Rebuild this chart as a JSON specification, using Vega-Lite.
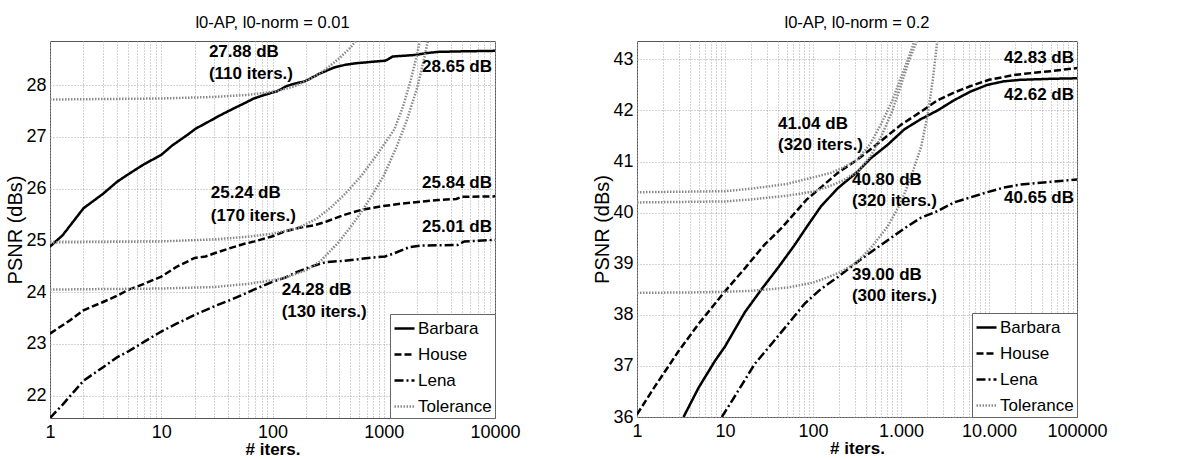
{
  "$schema": "https://vega.github.io/schema/vega-lite/v6.json",
  "padding": {"left": 5, "top": 14, "right": 5, "bottom": 3},
  "background": "white",
  "config": {
    "font": "Liberation Sans",
    "view": {"stroke": "#555", "strokeWidth": 1},
    "title": {"fontSize": 16.5, "fontWeight": "normal", "font": "Liberation Sans", "color": "black", "offset": 10},
    "axis": {
      "labelFont": "Liberation Sans", "labelFontSize": 18, "labelColor": "black",
      "titleFont": "Liberation Sans", "titleFontSize": 17, "titleColor": "black", "titleFontWeight": "normal",
      "domain": false, "ticks": false, "grid": true, "gridColor": "#a8a8a8", "gridDash": [1, 2], "gridWidth": 1, "gridOpacity": 1,
      "labelOverlap": false, "labelFlush": false
    },
    "legend": {
      "orient": "bottom-right", "offset": 0, "fillColor": "white", "strokeColor": "#666",
      "padding": 3, "labelFont": "Liberation Sans", "labelFontSize": 17, "labelColor": "black",
      "symbolType": "stroke", "symbolSize": 400, "rowPadding": 6, "labelOffset": 2, "symbolStrokeColor": "black"
    }
  },
  "datasets": {
    "left": [
      {"series": "Barbara", "curve": "Barbara", "iters": 1, "psnr": 24.88},
      {"series": "Barbara", "curve": "Barbara", "iters": 1.3, "psnr": 25.1},
      {"series": "Barbara", "curve": "Barbara", "iters": 2, "psnr": 25.62},
      {"series": "Barbara", "curve": "Barbara", "iters": 3, "psnr": 25.9},
      {"series": "Barbara", "curve": "Barbara", "iters": 4, "psnr": 26.13},
      {"series": "Barbara", "curve": "Barbara", "iters": 5, "psnr": 26.27},
      {"series": "Barbara", "curve": "Barbara", "iters": 7, "psnr": 26.47},
      {"series": "Barbara", "curve": "Barbara", "iters": 10, "psnr": 26.65},
      {"series": "Barbara", "curve": "Barbara", "iters": 12.5, "psnr": 26.83},
      {"series": "Barbara", "curve": "Barbara", "iters": 17, "psnr": 27.03},
      {"series": "Barbara", "curve": "Barbara", "iters": 20.5, "psnr": 27.16},
      {"series": "Barbara", "curve": "Barbara", "iters": 26, "psnr": 27.28},
      {"series": "Barbara", "curve": "Barbara", "iters": 33.5, "psnr": 27.41},
      {"series": "Barbara", "curve": "Barbara", "iters": 46, "psnr": 27.56},
      {"series": "Barbara", "curve": "Barbara", "iters": 55, "psnr": 27.64},
      {"series": "Barbara", "curve": "Barbara", "iters": 68, "psnr": 27.74},
      {"series": "Barbara", "curve": "Barbara", "iters": 85, "psnr": 27.81},
      {"series": "Barbara", "curve": "Barbara", "iters": 110, "psnr": 27.88},
      {"series": "Barbara", "curve": "Barbara", "iters": 134, "psnr": 27.98},
      {"series": "Barbara", "curve": "Barbara", "iters": 160, "psnr": 28.03},
      {"series": "Barbara", "curve": "Barbara", "iters": 195, "psnr": 28.07},
      {"series": "Barbara", "curve": "Barbara", "iters": 265, "psnr": 28.22},
      {"series": "Barbara", "curve": "Barbara", "iters": 360, "psnr": 28.34},
      {"series": "Barbara", "curve": "Barbara", "iters": 450, "psnr": 28.39},
      {"series": "Barbara", "curve": "Barbara", "iters": 560, "psnr": 28.42},
      {"series": "Barbara", "curve": "Barbara", "iters": 1030, "psnr": 28.47},
      {"series": "Barbara", "curve": "Barbara", "iters": 1100, "psnr": 28.5},
      {"series": "Barbara", "curve": "Barbara", "iters": 1200, "psnr": 28.55},
      {"series": "Barbara", "curve": "Barbara", "iters": 1900, "psnr": 28.58},
      {"series": "Barbara", "curve": "Barbara", "iters": 2500, "psnr": 28.62},
      {"series": "Barbara", "curve": "Barbara", "iters": 3100, "psnr": 28.64},
      {"series": "Barbara", "curve": "Barbara", "iters": 5000, "psnr": 28.65},
      {"series": "Barbara", "curve": "Barbara", "iters": 10000, "psnr": 28.66},

      {"series": "House", "curve": "House", "iters": 1, "psnr": 23.2},
      {"series": "House", "curve": "House", "iters": 1.5, "psnr": 23.45},
      {"series": "House", "curve": "House", "iters": 2, "psnr": 23.65},
      {"series": "House", "curve": "House", "iters": 3, "psnr": 23.81},
      {"series": "House", "curve": "House", "iters": 4, "psnr": 23.93},
      {"series": "House", "curve": "House", "iters": 5, "psnr": 24.04},
      {"series": "House", "curve": "House", "iters": 7, "psnr": 24.16},
      {"series": "House", "curve": "House", "iters": 10, "psnr": 24.3},
      {"series": "House", "curve": "House", "iters": 14, "psnr": 24.5},
      {"series": "House", "curve": "House", "iters": 20, "psnr": 24.66},
      {"series": "House", "curve": "House", "iters": 25, "psnr": 24.69},
      {"series": "House", "curve": "House", "iters": 31, "psnr": 24.76},
      {"series": "House", "curve": "House", "iters": 43, "psnr": 24.86},
      {"series": "House", "curve": "House", "iters": 55, "psnr": 24.93},
      {"series": "House", "curve": "House", "iters": 69, "psnr": 24.98},
      {"series": "House", "curve": "House", "iters": 100, "psnr": 25.08},
      {"series": "House", "curve": "House", "iters": 128, "psnr": 25.17},
      {"series": "House", "curve": "House", "iters": 170, "psnr": 25.24},
      {"series": "House", "curve": "House", "iters": 236, "psnr": 25.29},
      {"series": "House", "curve": "House", "iters": 302, "psnr": 25.36},
      {"series": "House", "curve": "House", "iters": 437, "psnr": 25.49},
      {"series": "House", "curve": "House", "iters": 632, "psnr": 25.59},
      {"series": "House", "curve": "House", "iters": 970, "psnr": 25.66},
      {"series": "House", "curve": "House", "iters": 1450, "psnr": 25.71},
      {"series": "House", "curve": "House", "iters": 3100, "psnr": 25.78},
      {"series": "House", "curve": "House", "iters": 4500, "psnr": 25.8},
      {"series": "House", "curve": "House", "iters": 5000, "psnr": 25.84},
      {"series": "House", "curve": "House", "iters": 10000, "psnr": 25.85},

      {"series": "Lena", "curve": "Lena", "iters": 1, "psnr": 21.57},
      {"series": "Lena", "curve": "Lena", "iters": 1.3, "psnr": 21.83},
      {"series": "Lena", "curve": "Lena", "iters": 2, "psnr": 22.29},
      {"series": "Lena", "curve": "Lena", "iters": 3, "psnr": 22.55},
      {"series": "Lena", "curve": "Lena", "iters": 4, "psnr": 22.74},
      {"series": "Lena", "curve": "Lena", "iters": 5, "psnr": 22.85},
      {"series": "Lena", "curve": "Lena", "iters": 7, "psnr": 23.04},
      {"series": "Lena", "curve": "Lena", "iters": 10, "psnr": 23.24},
      {"series": "Lena", "curve": "Lena", "iters": 14, "psnr": 23.4},
      {"series": "Lena", "curve": "Lena", "iters": 20, "psnr": 23.56},
      {"series": "Lena", "curve": "Lena", "iters": 31, "psnr": 23.74},
      {"series": "Lena", "curve": "Lena", "iters": 43, "psnr": 23.86},
      {"series": "Lena", "curve": "Lena", "iters": 55, "psnr": 23.96},
      {"series": "Lena", "curve": "Lena", "iters": 68, "psnr": 24.05},
      {"series": "Lena", "curve": "Lena", "iters": 100, "psnr": 24.2},
      {"series": "Lena", "curve": "Lena", "iters": 130, "psnr": 24.28},
      {"series": "Lena", "curve": "Lena", "iters": 162, "psnr": 24.38},
      {"series": "Lena", "curve": "Lena", "iters": 220, "psnr": 24.49},
      {"series": "Lena", "curve": "Lena", "iters": 300, "psnr": 24.58},
      {"series": "Lena", "curve": "Lena", "iters": 409, "psnr": 24.6},
      {"series": "Lena", "curve": "Lena", "iters": 556, "psnr": 24.63},
      {"series": "Lena", "curve": "Lena", "iters": 805, "psnr": 24.67},
      {"series": "Lena", "curve": "Lena", "iters": 1030, "psnr": 24.69},
      {"series": "Lena", "curve": "Lena", "iters": 1240, "psnr": 24.75},
      {"series": "Lena", "curve": "Lena", "iters": 1700, "psnr": 24.87},
      {"series": "Lena", "curve": "Lena", "iters": 2200, "psnr": 24.9},
      {"series": "Lena", "curve": "Lena", "iters": 4600, "psnr": 24.91},
      {"series": "Lena", "curve": "Lena", "iters": 5300, "psnr": 24.98},
      {"series": "Lena", "curve": "Lena", "iters": 10000, "psnr": 25.01},

      {"series": "Tolerance", "curve": "TolB", "iters": 1, "psnr": 27.72},
      {"series": "Tolerance", "curve": "TolB", "iters": 10, "psnr": 27.74},
      {"series": "Tolerance", "curve": "TolB", "iters": 30, "psnr": 27.77},
      {"series": "Tolerance", "curve": "TolB", "iters": 60, "psnr": 27.81},
      {"series": "Tolerance", "curve": "TolB", "iters": 110, "psnr": 27.88},
      {"series": "Tolerance", "curve": "TolB", "iters": 160, "psnr": 27.98},
      {"series": "Tolerance", "curve": "TolB", "iters": 220, "psnr": 28.12},
      {"series": "Tolerance", "curve": "TolB", "iters": 300, "psnr": 28.3},
      {"series": "Tolerance", "curve": "TolB", "iters": 400, "psnr": 28.52},
      {"series": "Tolerance", "curve": "TolB", "iters": 500, "psnr": 28.72},
      {"series": "Tolerance", "curve": "TolB", "iters": 600, "psnr": 28.92},

      {"series": "Tolerance", "curve": "TolH", "iters": 1, "psnr": 24.96},
      {"series": "Tolerance", "curve": "TolH", "iters": 10, "psnr": 24.98},
      {"series": "Tolerance", "curve": "TolH", "iters": 30, "psnr": 25.02},
      {"series": "Tolerance", "curve": "TolH", "iters": 60, "psnr": 25.07},
      {"series": "Tolerance", "curve": "TolH", "iters": 100, "psnr": 25.13},
      {"series": "Tolerance", "curve": "TolH", "iters": 170, "psnr": 25.24},
      {"series": "Tolerance", "curve": "TolH", "iters": 250, "psnr": 25.42},
      {"series": "Tolerance", "curve": "TolH", "iters": 340, "psnr": 25.65},
      {"series": "Tolerance", "curve": "TolH", "iters": 450, "psnr": 25.9},
      {"series": "Tolerance", "curve": "TolH", "iters": 630, "psnr": 26.25},
      {"series": "Tolerance", "curve": "TolH", "iters": 900, "psnr": 26.7},
      {"series": "Tolerance", "curve": "TolH", "iters": 1250, "psnr": 27.15},
      {"series": "Tolerance", "curve": "TolH", "iters": 1500, "psnr": 27.6},
      {"series": "Tolerance", "curve": "TolH", "iters": 1750, "psnr": 28.1},
      {"series": "Tolerance", "curve": "TolH", "iters": 2000, "psnr": 28.6},
      {"series": "Tolerance", "curve": "TolH", "iters": 2150, "psnr": 28.95},

      {"series": "Tolerance", "curve": "TolL", "iters": 1, "psnr": 24.05},
      {"series": "Tolerance", "curve": "TolL", "iters": 10, "psnr": 24.07},
      {"series": "Tolerance", "curve": "TolL", "iters": 30, "psnr": 24.1},
      {"series": "Tolerance", "curve": "TolL", "iters": 60, "psnr": 24.16},
      {"series": "Tolerance", "curve": "TolL", "iters": 100, "psnr": 24.23},
      {"series": "Tolerance", "curve": "TolL", "iters": 130, "psnr": 24.28},
      {"series": "Tolerance", "curve": "TolL", "iters": 200, "psnr": 24.42},
      {"series": "Tolerance", "curve": "TolL", "iters": 270, "psnr": 24.6},
      {"series": "Tolerance", "curve": "TolL", "iters": 380, "psnr": 24.93},
      {"series": "Tolerance", "curve": "TolL", "iters": 500, "psnr": 25.25},
      {"series": "Tolerance", "curve": "TolL", "iters": 630, "psnr": 25.55},
      {"series": "Tolerance", "curve": "TolL", "iters": 800, "psnr": 25.9},
      {"series": "Tolerance", "curve": "TolL", "iters": 1000, "psnr": 26.25},
      {"series": "Tolerance", "curve": "TolL", "iters": 1300, "psnr": 26.8},
      {"series": "Tolerance", "curve": "TolL", "iters": 1600, "psnr": 27.3},
      {"series": "Tolerance", "curve": "TolL", "iters": 2000, "psnr": 27.95},
      {"series": "Tolerance", "curve": "TolL", "iters": 2300, "psnr": 28.5},
      {"series": "Tolerance", "curve": "TolL", "iters": 2550, "psnr": 28.95}
    ],
    "right": [
      {"series": "Barbara", "curve": "Barbara", "iters": 3.38, "psnr": 36.0},
      {"series": "Barbara", "curve": "Barbara", "iters": 5, "psnr": 36.57},
      {"series": "Barbara", "curve": "Barbara", "iters": 7.7, "psnr": 37.1},
      {"series": "Barbara", "curve": "Barbara", "iters": 10, "psnr": 37.38},
      {"series": "Barbara", "curve": "Barbara", "iters": 16.8, "psnr": 38.05},
      {"series": "Barbara", "curve": "Barbara", "iters": 26, "psnr": 38.5},
      {"series": "Barbara", "curve": "Barbara", "iters": 40, "psnr": 38.92},
      {"series": "Barbara", "curve": "Barbara", "iters": 62, "psnr": 39.37},
      {"series": "Barbara", "curve": "Barbara", "iters": 84, "psnr": 39.71},
      {"series": "Barbara", "curve": "Barbara", "iters": 124, "psnr": 40.13},
      {"series": "Barbara", "curve": "Barbara", "iters": 192, "psnr": 40.48},
      {"series": "Barbara", "curve": "Barbara", "iters": 320, "psnr": 40.8},
      {"series": "Barbara", "curve": "Barbara", "iters": 457, "psnr": 41.07},
      {"series": "Barbara", "curve": "Barbara", "iters": 706, "psnr": 41.33},
      {"series": "Barbara", "curve": "Barbara", "iters": 1090, "psnr": 41.63},
      {"series": "Barbara", "curve": "Barbara", "iters": 1680, "psnr": 41.83},
      {"series": "Barbara", "curve": "Barbara", "iters": 2600, "psnr": 42.0},
      {"series": "Barbara", "curve": "Barbara", "iters": 4000, "psnr": 42.2},
      {"series": "Barbara", "curve": "Barbara", "iters": 6170, "psnr": 42.37},
      {"series": "Barbara", "curve": "Barbara", "iters": 9500, "psnr": 42.5},
      {"series": "Barbara", "curve": "Barbara", "iters": 14700, "psnr": 42.57},
      {"series": "Barbara", "curve": "Barbara", "iters": 22700, "psnr": 42.6},
      {"series": "Barbara", "curve": "Barbara", "iters": 50000, "psnr": 42.62},
      {"series": "Barbara", "curve": "Barbara", "iters": 100000, "psnr": 42.63},

      {"series": "House", "curve": "House", "iters": 1, "psnr": 36.05},
      {"series": "House", "curve": "House", "iters": 1.6, "psnr": 36.6},
      {"series": "House", "curve": "House", "iters": 3, "psnr": 37.3},
      {"series": "House", "curve": "House", "iters": 5, "psnr": 37.82},
      {"series": "House", "curve": "House", "iters": 10, "psnr": 38.46},
      {"series": "House", "curve": "House", "iters": 17, "psnr": 38.92},
      {"series": "House", "curve": "House", "iters": 28, "psnr": 39.37},
      {"series": "House", "curve": "House", "iters": 44, "psnr": 39.7},
      {"series": "House", "curve": "House", "iters": 84, "psnr": 40.25},
      {"series": "House", "curve": "House", "iters": 124, "psnr": 40.5},
      {"series": "House", "curve": "House", "iters": 192, "psnr": 40.78},
      {"series": "House", "curve": "House", "iters": 320, "psnr": 41.04},
      {"series": "House", "curve": "House", "iters": 500, "psnr": 41.3},
      {"series": "House", "curve": "House", "iters": 1000, "psnr": 41.72},
      {"series": "House", "curve": "House", "iters": 1700, "psnr": 41.98},
      {"series": "House", "curve": "House", "iters": 2600, "psnr": 42.2},
      {"series": "House", "curve": "House", "iters": 4000, "psnr": 42.35},
      {"series": "House", "curve": "House", "iters": 6000, "psnr": 42.47},
      {"series": "House", "curve": "House", "iters": 10000, "psnr": 42.6},
      {"series": "House", "curve": "House", "iters": 20000, "psnr": 42.7},
      {"series": "House", "curve": "House", "iters": 50000, "psnr": 42.77},
      {"series": "House", "curve": "House", "iters": 100000, "psnr": 42.83},

      {"series": "Lena", "curve": "Lena", "iters": 9.2, "psnr": 36.0},
      {"series": "Lena", "curve": "Lena", "iters": 14.1, "psnr": 36.51},
      {"series": "Lena", "curve": "Lena", "iters": 21.8, "psnr": 37.04},
      {"series": "Lena", "curve": "Lena", "iters": 33.8, "psnr": 37.43},
      {"series": "Lena", "curve": "Lena", "iters": 52, "psnr": 37.82},
      {"series": "Lena", "curve": "Lena", "iters": 80.5, "psnr": 38.22},
      {"series": "Lena", "curve": "Lena", "iters": 124, "psnr": 38.51},
      {"series": "Lena", "curve": "Lena", "iters": 192, "psnr": 38.74},
      {"series": "Lena", "curve": "Lena", "iters": 300, "psnr": 39.0},
      {"series": "Lena", "curve": "Lena", "iters": 457, "psnr": 39.23},
      {"series": "Lena", "curve": "Lena", "iters": 706, "psnr": 39.46},
      {"series": "Lena", "curve": "Lena", "iters": 1090, "psnr": 39.69},
      {"series": "Lena", "curve": "Lena", "iters": 1680, "psnr": 39.9},
      {"series": "Lena", "curve": "Lena", "iters": 2600, "psnr": 40.03},
      {"series": "Lena", "curve": "Lena", "iters": 4000, "psnr": 40.2},
      {"series": "Lena", "curve": "Lena", "iters": 6170, "psnr": 40.3},
      {"series": "Lena", "curve": "Lena", "iters": 9500, "psnr": 40.4},
      {"series": "Lena", "curve": "Lena", "iters": 14700, "psnr": 40.49},
      {"series": "Lena", "curve": "Lena", "iters": 22700, "psnr": 40.55},
      {"series": "Lena", "curve": "Lena", "iters": 54500, "psnr": 40.61},
      {"series": "Lena", "curve": "Lena", "iters": 100000, "psnr": 40.65},

      {"series": "Tolerance", "curve": "TolH", "iters": 1, "psnr": 40.4},
      {"series": "Tolerance", "curve": "TolH", "iters": 10, "psnr": 40.42},
      {"series": "Tolerance", "curve": "TolH", "iters": 20, "psnr": 40.47},
      {"series": "Tolerance", "curve": "TolH", "iters": 50, "psnr": 40.56},
      {"series": "Tolerance", "curve": "TolH", "iters": 100, "psnr": 40.69},
      {"series": "Tolerance", "curve": "TolH", "iters": 160, "psnr": 40.78},
      {"series": "Tolerance", "curve": "TolH", "iters": 220, "psnr": 40.88},
      {"series": "Tolerance", "curve": "TolH", "iters": 320, "psnr": 41.04},
      {"series": "Tolerance", "curve": "TolH", "iters": 450, "psnr": 41.35},
      {"series": "Tolerance", "curve": "TolH", "iters": 600, "psnr": 41.75},
      {"series": "Tolerance", "curve": "TolH", "iters": 800, "psnr": 42.2},
      {"series": "Tolerance", "curve": "TolH", "iters": 1000, "psnr": 42.65},
      {"series": "Tolerance", "curve": "TolH", "iters": 1200, "psnr": 43.0},
      {"series": "Tolerance", "curve": "TolH", "iters": 1450, "psnr": 43.4},

      {"series": "Tolerance", "curve": "TolB", "iters": 1, "psnr": 40.2},
      {"series": "Tolerance", "curve": "TolB", "iters": 10, "psnr": 40.22},
      {"series": "Tolerance", "curve": "TolB", "iters": 20, "psnr": 40.26},
      {"series": "Tolerance", "curve": "TolB", "iters": 50, "psnr": 40.33},
      {"series": "Tolerance", "curve": "TolB", "iters": 100, "psnr": 40.41},
      {"series": "Tolerance", "curve": "TolB", "iters": 160, "psnr": 40.53},
      {"series": "Tolerance", "curve": "TolB", "iters": 220, "psnr": 40.63},
      {"series": "Tolerance", "curve": "TolB", "iters": 320, "psnr": 40.8},
      {"series": "Tolerance", "curve": "TolB", "iters": 450, "psnr": 41.1},
      {"series": "Tolerance", "curve": "TolB", "iters": 600, "psnr": 41.5},
      {"series": "Tolerance", "curve": "TolB", "iters": 800, "psnr": 42.0},
      {"series": "Tolerance", "curve": "TolB", "iters": 1000, "psnr": 42.5},
      {"series": "Tolerance", "curve": "TolB", "iters": 1250, "psnr": 43.0},
      {"series": "Tolerance", "curve": "TolB", "iters": 1550, "psnr": 43.4},

      {"series": "Tolerance", "curve": "TolL", "iters": 1, "psnr": 38.43},
      {"series": "Tolerance", "curve": "TolL", "iters": 5, "psnr": 38.44},
      {"series": "Tolerance", "curve": "TolL", "iters": 10, "psnr": 38.45},
      {"series": "Tolerance", "curve": "TolL", "iters": 20, "psnr": 38.47},
      {"series": "Tolerance", "curve": "TolL", "iters": 50, "psnr": 38.53},
      {"series": "Tolerance", "curve": "TolL", "iters": 100, "psnr": 38.63},
      {"series": "Tolerance", "curve": "TolL", "iters": 150, "psnr": 38.74},
      {"series": "Tolerance", "curve": "TolL", "iters": 200, "psnr": 38.83},
      {"series": "Tolerance", "curve": "TolL", "iters": 300, "psnr": 39.0},
      {"series": "Tolerance", "curve": "TolL", "iters": 450, "psnr": 39.3},
      {"series": "Tolerance", "curve": "TolL", "iters": 700, "psnr": 39.72},
      {"series": "Tolerance", "curve": "TolL", "iters": 1000, "psnr": 40.2},
      {"series": "Tolerance", "curve": "TolL", "iters": 1300, "psnr": 40.7},
      {"series": "Tolerance", "curve": "TolL", "iters": 1700, "psnr": 41.3},
      {"series": "Tolerance", "curve": "TolL", "iters": 2000, "psnr": 41.9},
      {"series": "Tolerance", "curve": "TolL", "iters": 2300, "psnr": 42.6},
      {"series": "Tolerance", "curve": "TolL", "iters": 2600, "psnr": 43.4}
    ],
    "leftNotesL": [
      {"iters": 26.8, "psnr": 28.64, "text": "27.88 dB"},
      {"iters": 26.8, "psnr": 28.21, "text": "(110 iters.)"},
      {"iters": 27.9, "psnr": 25.92, "text": "25.24 dB"},
      {"iters": 27.9, "psnr": 25.48, "text": "(170 iters.)"},
      {"iters": 121, "psnr": 24.04, "text": "24.28 dB"},
      {"iters": 121, "psnr": 23.62, "text": "(130 iters.)"}
    ],
    "leftNotesR": [
      {"iters": 10000, "psnr": 28.35, "text": "28.65 dB"},
      {"iters": 10000, "psnr": 26.1, "text": "25.84 dB"},
      {"iters": 10000, "psnr": 25.25, "text": "25.01 dB"}
    ],
    "rightNotesL": [
      {"iters": 40, "psnr": 41.73, "text": "41.04 dB"},
      {"iters": 40, "psnr": 41.33, "text": "(320 iters.)"},
      {"iters": 277, "psnr": 40.63, "text": "40.80 dB"},
      {"iters": 277, "psnr": 40.22, "text": "(320 iters.)"},
      {"iters": 277, "psnr": 38.78, "text": "39.00 dB"},
      {"iters": 277, "psnr": 38.36, "text": "(300 iters.)"}
    ],
    "rightNotesR": [
      {"iters": 100000, "psnr": 43.03, "text": "42.83 dB"},
      {"iters": 100000, "psnr": 42.3, "text": "42.62 dB"},
      {"iters": 100000, "psnr": 40.29, "text": "40.65 dB"}
    ]
  },
  "bounds": "flush",
  "spacing": 142,
  "resolve": {
    "scale": {"x": "independent", "y": "independent"},
    "legend": {"color": "independent", "strokeDash": "independent", "strokeWidth": "independent"}
  },
  "hconcat": [
    {
      "title": "l0-AP, l0-norm = 0.01",
      "width": 445,
      "height": 377,
      "layer": [
        {
          "data": {"name": "left"},
          "mark": {"type": "line", "clip": true},
          "encoding": {
            "x": {"field": "iters", "type": "quantitative",
              "scale": {"type": "log", "domain": [1, 10000], "nice": false},
              "axis": {"title": "# iters.", "titleFontWeight": "bold", "titlePadding": 0, "labelPadding": 5,
                "values": [1,2,3,4,5,6,7,8,9,10,20,30,40,50,60,70,80,90,100,200,300,400,500,600,700,800,900,1000,2000,3000,4000,5000,6000,7000,8000,9000,10000],
                "labelExpr": "indexof([1,10,100,1000,10000], datum.value) >= 0 ? format(datum.value, 'd') : ''"}},
            "y": {"field": "psnr", "type": "quantitative",
              "scale": {"domain": [21.57, 28.85], "nice": false, "zero": false},
              "axis": {"title": "PSNR (dBs)", "titleFontSize": 20, "values": [22,23,24,25,26,27,28], "labelPadding": 4, "titlePadding": 0}},
            "detail": {"field": "curve"},
            "color": {"field": "series", "type": "nominal",
              "scale": {"domain": ["Barbara","House","Lena","Tolerance"], "range": ["#000000","#000000","#000000","#8a8a8a"]},
              "legend": {"title": null}},
            "strokeDash": {"field": "series", "type": "nominal",
              "scale": {"domain": ["Barbara","House","Lena","Tolerance"], "range": [[1,0],[7,3],[9,3,2,3],[1.5,1.5]]},
              "legend": {"title": null}},
            "strokeWidth": {"field": "series", "type": "nominal",
              "scale": {"domain": ["Barbara","House","Lena","Tolerance"], "range": [2.5,2.5,2.5,2]},
              "legend": {"title": null}}
          }
        },
        {
          "data": {"name": "leftNotesL"},
          "mark": {"type": "text", "align": "left", "baseline": "middle", "fontSize": 17, "fontWeight": "bold", "font": "Liberation Sans", "color": "black"},
          "encoding": {
            "x": {"field": "iters", "type": "quantitative"},
            "y": {"field": "psnr", "type": "quantitative"},
            "text": {"field": "text"}
          }
        },
        {
          "data": {"name": "leftNotesR"},
          "mark": {"type": "text", "align": "right", "baseline": "middle", "dx": -3, "fontSize": 17, "fontWeight": "bold", "font": "Liberation Sans", "color": "black"},
          "encoding": {
            "x": {"field": "iters", "type": "quantitative"},
            "y": {"field": "psnr", "type": "quantitative"},
            "text": {"field": "text"}
          }
        }
      ]
    },
    {
      "title": "l0-AP, l0-norm = 0.2",
      "width": 440,
      "height": 376,
      "layer": [
        {
          "data": {"name": "right"},
          "mark": {"type": "line", "clip": true},
          "encoding": {
            "x": {"field": "iters", "type": "quantitative",
              "scale": {"type": "log", "domain": [1, 100000], "nice": false},
              "axis": {"title": "# iters.", "titleFontWeight": "bold", "titlePadding": 0, "labelPadding": 5,
                "values": [1,2,3,4,5,6,7,8,9,10,20,30,40,50,60,70,80,90,100,200,300,400,500,600,700,800,900,1000,2000,3000,4000,5000,6000,7000,8000,9000,10000,20000,30000,40000,50000,60000,70000,80000,90000,100000],
                "labelExpr": "datum.value == 1000 ? '1.000' : datum.value == 10000 ? '10.000' : (indexof([1,10,100,100000], datum.value) >= 0 ? format(datum.value, 'd') : '')"}},
            "y": {"field": "psnr", "type": "quantitative",
              "scale": {"domain": [36, 43.36], "nice": false, "zero": false},
              "axis": {"title": "PSNR (dBs)", "titleFontSize": 20, "values": [36,37,38,39,40,41,42,43], "labelPadding": 4, "titlePadding": 0}},
            "detail": {"field": "curve"},
            "color": {"field": "series", "type": "nominal",
              "scale": {"domain": ["Barbara","House","Lena","Tolerance"], "range": ["#000000","#000000","#000000","#8a8a8a"]},
              "legend": {"title": null}},
            "strokeDash": {"field": "series", "type": "nominal",
              "scale": {"domain": ["Barbara","House","Lena","Tolerance"], "range": [[1,0],[7,3],[9,3,2,3],[1.5,1.5]]},
              "legend": {"title": null}},
            "strokeWidth": {"field": "series", "type": "nominal",
              "scale": {"domain": ["Barbara","House","Lena","Tolerance"], "range": [2.5,2.5,2.5,2]},
              "legend": {"title": null}}
          }
        },
        {
          "data": {"name": "rightNotesL"},
          "mark": {"type": "text", "align": "left", "baseline": "middle", "fontSize": 17, "fontWeight": "bold", "font": "Liberation Sans", "color": "black"},
          "encoding": {
            "x": {"field": "iters", "type": "quantitative"},
            "y": {"field": "psnr", "type": "quantitative"},
            "text": {"field": "text"}
          }
        },
        {
          "data": {"name": "rightNotesR"},
          "mark": {"type": "text", "align": "right", "baseline": "middle", "dx": -3, "fontSize": 17, "fontWeight": "bold", "font": "Liberation Sans", "color": "black"},
          "encoding": {
            "x": {"field": "iters", "type": "quantitative"},
            "y": {"field": "psnr", "type": "quantitative"},
            "text": {"field": "text"}
          }
        }
      ]
    }
  ]
}
